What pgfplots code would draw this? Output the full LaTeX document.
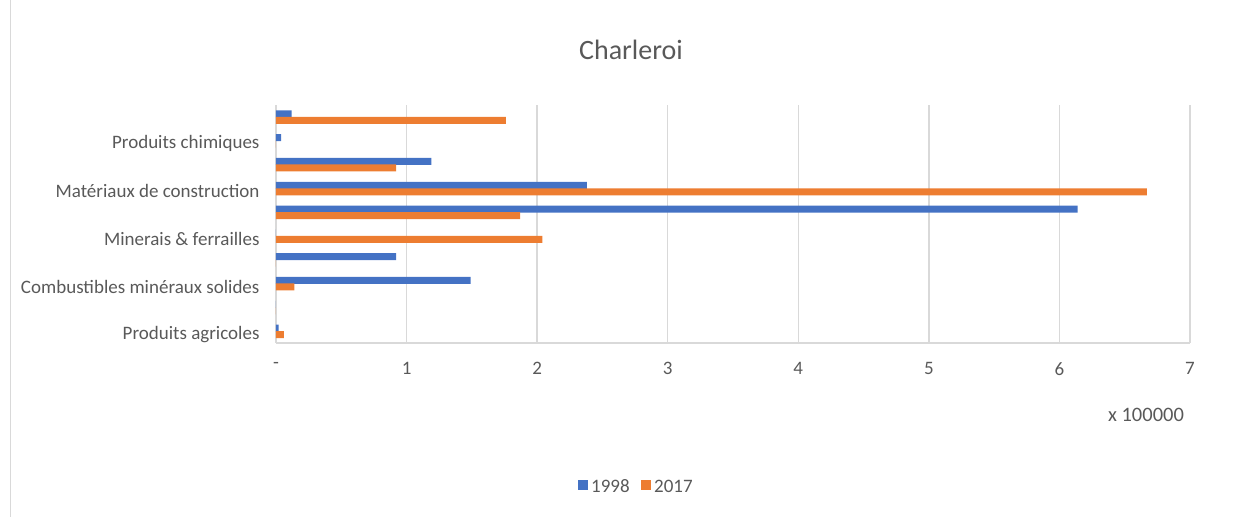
\documentclass[border=0pt]{standalone}
\usepackage{pgfplots}
\pgfplotsset{compat=1.18}
\usepackage{fontspec}
\setmainfont{Carlito}
\definecolor{cblue}{HTML}{4472C4}
\definecolor{corange}{HTML}{ED7D31}
\definecolor{ctext}{HTML}{595959}
\definecolor{cgrid}{HTML}{D9D9D9}
\begin{document}
\begin{tikzpicture}[x=1pt,y=1pt]
\path[use as bounding box] (0,0) rectangle (1251,517);
\draw[cgrid, line width=1pt] (10,0) -- (10,517);
\begin{axis}[
  at={(276pt,174pt)}, anchor=south west,
  scale only axis, width=914pt, height=238pt,
  xbar, bar width=7pt,
  xmin=0, xmax=7, ymin=0.5, ymax=10.5,
  xtick={0,...,7}, xticklabels={-,1,2,3,4,5,6,7},
  ytick={1,3,5,7,9},
  yticklabels={Produits agricoles,Combustibles minéraux solides,Minerais \& ferrailles,Matériaux de construction,Produits chimiques},
  xmajorgrids, major grid style={cgrid, line width=1.5pt},
  axis line style={cgrid, line width=1.5pt},
  axis x line*=bottom, axis y line*=left,
  major tick length=0pt,
  tick label style={font=\fontsize{19}{22}\selectfont, text=ctext},
  /pgf/number format/assume math mode=true,
  xticklabel style={yshift=-16pt},
  yticklabel style={xshift=-13pt, yshift=-3pt},
  clip=false,
]
\addplot[fill=cblue, draw=none, bar shift=3pt] coordinates {
(0.02,1) (0,2) (1.49,3) (0.92,4) (0,5) (6.14,6) (2.38,7) (1.19,8) (0.04,9) (0.12,10)};
\addplot[fill=corange, draw=none, bar shift=-3.5pt] coordinates {
(0.06,1) (0,2) (0.14,3) (0,4) (2.04,5) (1.87,6) (6.67,7) (0.92,8) (0,9) (1.76,10)};
\end{axis}
\node[text=ctext, font=\fontsize{28}{32}\selectfont] at (631,467) {Charleroi};
\node[text=ctext, font=\fontsize{20.5}{24}\selectfont] at (1146,102) {x 100000};
\fill[cblue] (578,27) rectangle (588,37);
\node[text=ctext, font=\fontsize{19}{22}\selectfont, anchor=west, inner sep=0pt] at (591,31) {1998};
\fill[corange] (641,27) rectangle (651,37);
\node[text=ctext, font=\fontsize{19}{22}\selectfont, anchor=west, inner sep=0pt] at (654,31) {2017};
\end{tikzpicture}
\end{document}
